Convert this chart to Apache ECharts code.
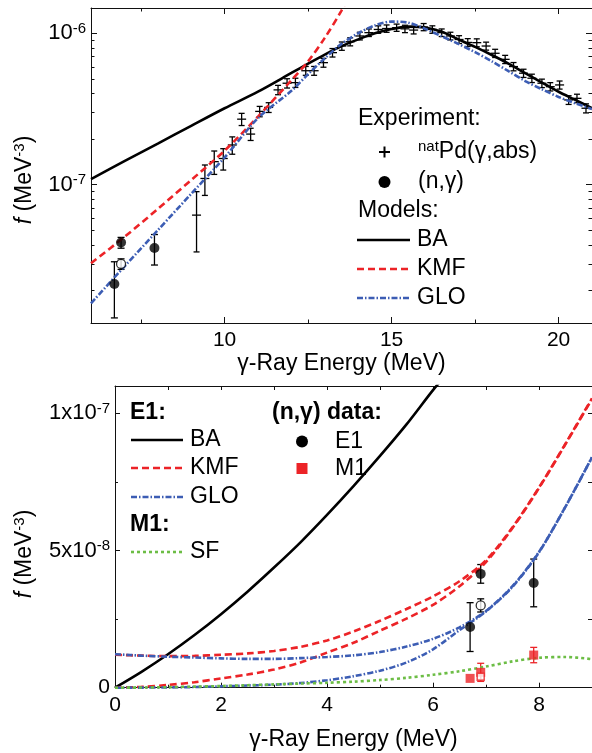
<!DOCTYPE html>
<html>
<head>
<meta charset="utf-8">
<script src="https://cdn.jsdelivr.net/npm/echarts@6/dist/echarts.min.js"></script>
<style>
  html, body { margin: 0; padding: 0; background: #ffffff; }
  #chart { width: 592px; height: 753px; }
</style>
</head>
<body>
<div id="chart"></div>
<script>
// ---------- Upper panel: strength function on a log scale ----------
// Model curves (MeV, MeV^-3)
const topE   = [6, 7, 8, 9, 10, 11, 12, 12.5, 13, 13.5, 14, 14.5, 15, 15.5, 16, 16.5, 17, 17.5, 18, 18.5, 19, 19.5, 20, 20.5, 21];
const baTop  = [1.09e-7, 1.43e-7, 1.87e-7, 2.45e-7, 3.20e-7, 4.12e-7, 5.47e-7, 6.31e-7, 7.24e-7, 8.22e-7, 9.12e-7, 1.0e-6, 1.066e-6, 1.107e-6, 1.091e-6, 1.023e-6, 9.12e-7, 8.13e-7, 7.19e-7, 6.31e-7, 5.45e-7, 4.73e-7, 4.11e-7, 3.63e-7, 3.20e-7];
const gloTop = [1.648e-8, 2.884e-8, 5.01e-8, 8.71e-8, 1.514e-7, 2.754e-7, 4.17e-7, 5.37e-7, 6.84e-7, 8.51e-7, 1.0e-6, 1.127e-6, 1.194e-6, 1.175e-6, 1.072e-6, 9.55e-7, 8.51e-7, 7.50e-7, 6.53e-7, 5.62e-7, 4.84e-7, 4.27e-7, 3.80e-7, 3.45e-7, 3.16e-7];
const kmfTopE = [6, 7, 8, 9, 10, 11, 12, 12.5, 13, 13.5, 14];
const kmfTop  = [3.03e-8, 4.52e-8, 6.92e-8, 1.074e-7, 1.679e-7, 2.818e-7, 4.90e-7, 6.53e-7, 9.33e-7, 1.413e-6, 2.29e-6];

// natPd(gamma,abs) photoabsorption points
const absE = [9.16, 9.41, 9.69, 9.96, 10.23, 10.51, 10.78, 11.05, 11.32, 11.6, 11.87, 12.12, 12.43, 12.68, 12.96, 13.23, 13.51, 13.76, 14.05, 14.32, 14.6, 14.85, 15.15, 15.4, 15.66, 15.96, 16.22, 16.5, 16.76, 17.02, 17.28, 17.55, 17.83, 18.1, 18.4, 18.65, 18.95, 19.2, 19.5, 19.75, 20.03, 20.3, 20.55, 20.82];
const absF = [6.3e-8, 1.10e-7, 1.42e-7, 1.49e-7, 1.83e-7, 2.71e-7, 2.16e-7, 3.05e-7, 3.24e-7, 4.23e-7, 4.68e-7, 4.72e-7, 5.66e-7, 5.66e-7, 6.4e-7, 7.45e-7, 8.24e-7, 8.8e-7, 9.6e-7, 1.01e-6, 1.06e-6, 1.075e-6, 1.09e-6, 1.07e-6, 1.05e-6, 1.10e-6, 1.06e-6, 1.01e-6, 9.6e-7, 9.1e-7, 8.7e-7, 8.67e-7, 8.24e-7, 7.38e-7, 6.73e-7, 6.03e-7, 5.45e-7, 5.05e-7, 4.68e-7, 4.44e-7, 4.56e-7, 3.63e-7, 3.72e-7, 3.20e-7];
const absErr = [2.7e-8, 2.5e-8, 2.5e-8, 2.4e-8, 2.4e-8, 2.5e-8, 2.0e-8, 2.4e-8, 2.4e-8, 3.0e-8, 3.3e-8, 3.3e-8, 3.8e-8, 3.8e-8, 4.3e-8, 4.8e-8, 5.2e-8, 5.4e-8, 5.6e-8, 5.8e-8, 6.0e-8, 6.0e-8, 6.0e-8, 6.0e-8, 6.0e-8, 6.0e-8, 6.0e-8, 5.8e-8, 5.6e-8, 5.4e-8, 5.2e-8, 5.2e-8, 5.0e-8, 4.6e-8, 4.2e-8, 3.8e-8, 3.4e-8, 3.2e-8, 3.0e-8, 2.8e-8, 2.8e-8, 2.4e-8, 2.4e-8, 2.2e-8];

// (n,gamma) E1 points, filled and open
const ngE = [6.7, 6.9, 7.9];
const ngF = [2.21e-8, 4.15e-8, 3.82e-8];
const ngErr = [0.89e-8, 0.34e-8, 0.87e-8];
const ngOpenE = [6.9];
const ngOpenF = [3.0e-8];
const ngOpenErr = [0.24e-8];

// (n,gamma) M1 points, filled and open
const m1E = [6.7, 6.9, 7.9];
const m1F = [0.34e-8, 0.56e-8, 1.19e-8];
const m1Err = [0.0, 0.33e-8, 0.28e-8];
const m1OpenE = [6.9];
const m1OpenF = [0.40e-8];
const m1OpenErr = [0.10e-8];

// ---------- Lower panel: linear scale, low energies ----------
const lowE     = [0, 0.5, 1, 1.5, 2, 2.5, 3, 3.5, 4, 4.5, 5, 5.5, 6, 6.5, 7, 7.5, 8, 8.5, 9];
const kmfHot   = [1.2e-8, 1.17e-8, 1.15e-8, 1.16e-8, 1.2e-8, 1.25e-8, 1.34e-8, 1.49e-8, 1.72e-8, 2.05e-8, 2.44e-8, 2.87e-8, 3.33e-8, 3.88e-8, 4.65e-8, 5.85e-8, 7.3e-8, 8.9e-8, 10.55e-8];
const kmfCold  = [0, 0.03e-8, 0.1e-8, 0.2e-8, 0.34e-8, 0.48e-8, 0.66e-8, 0.92e-8, 1.28e-8, 1.64e-8, 2.08e-8, 2.52e-8, 3.02e-8, 3.7e-8, 4.58e-8, 5.82e-8, 7.28e-8, 8.88e-8, 10.53e-8];
const gloHot   = [1.22e-8, 1.17e-8, 1.13e-8, 1.1e-8, 1.07e-8, 1.05e-8, 1.05e-8, 1.08e-8, 1.12e-8, 1.18e-8, 1.3e-8, 1.5e-8, 1.78e-8, 2.2e-8, 2.8e-8, 3.7e-8, 4.95e-8, 6.6e-8, 8.4e-8];
const gloCold  = [0, 0.003e-8, 0.01e-8, 0.025e-8, 0.05e-8, 0.08e-8, 0.11e-8, 0.17e-8, 0.27e-8, 0.42e-8, 0.62e-8, 0.92e-8, 1.4e-8, 2.1e-8, 2.78e-8, 3.68e-8, 4.94e-8, 6.6e-8, 8.4e-8];
const sfM1     = [0, 0.005e-8, 0.02e-8, 0.04e-8, 0.06e-8, 0.09e-8, 0.12e-8, 0.15e-8, 0.18e-8, 0.22e-8, 0.28e-8, 0.36e-8, 0.47e-8, 0.6e-8, 0.77e-8, 0.96e-8, 1.09e-8, 1.12e-8, 1.04e-8];
const baLowE   = [0, 0.5, 1, 1.5, 2, 2.5, 3, 3.5, 4, 4.5, 5, 5.5, 6, 6.2];
const baLow    = [0, 0.58e-8, 1.22e-8, 1.92e-8, 2.68e-8, 3.5e-8, 4.38e-8, 5.3e-8, 6.3e-8, 7.35e-8, 8.45e-8, 9.6e-8, 10.85e-8, 11.3e-8];

// ---------- Axis ticks and labels ----------
const topXMajor = [10, 15, 20];
const topXMinor = [7.5, 12.5, 17.5];
const topYMajorExp = [-7, -6];
const topYMinor = [2e-8, 3e-8, 4e-8, 5e-8, 6e-8, 7e-8, 8e-8, 9e-8, 2e-7, 3e-7, 4e-7, 5e-7, 6e-7, 7e-7, 8e-7, 9e-7];
const lowXMajor = [0, 2, 4, 6, 8];
const lowXMinor = [1, 3, 5, 7, 9];
const lowYMajor = [0, 5e-8, 1e-7];
const lowYMajorText = ['0', '{m|5x10}{e|-8}', '{m|1x10}{e|-7}'];
const lowYMinor = [2.5e-8, 7.5e-8];

const RED = '#ec2327';
const BLUE = '#3c5db4';
const GREEN = '#6cbd45';
const INK = '#111111';
const FONT = '"Liberation Sans", Arial, Helvetica, sans-serif';

const L = v => Math.log10(v);
const pairs = (xs, ys, f) => xs.map((x, i) => [x, f ? f(ys[i]) : ys[i]]);

// log-panel ranges (log10 of MeV^-3)
const TOP_YMIN = -7.913, TOP_YMAX = -5.833;

const chart = echarts.init(document.getElementById('chart'), null, { renderer: 'canvas' });

function xAxisDef(grid, pos, min, max, ticks, len, withLine, labels, name, nameGap) {
  return {
    type: 'value', gridIndex: grid, position: pos, min: min, max: max,
    axisLine: { show: withLine, onZero: false, lineStyle: { color: INK, width: 1 } },
    axisTick: { show: true, inside: true, length: len, customValues: ticks, lineStyle: { color: INK, width: 1 } },
    axisLabel: labels ? {
      show: true, customValues: labels, margin: 7, color: '#000', fontFamily: FONT, fontSize: 21
    } : { show: false },
    splitLine: { show: false },
    name: name || '', nameLocation: 'middle', nameGap: nameGap || 0,
    nameTextStyle: { color: '#000', fontFamily: FONT, fontSize: 23 }
  };
}

function yAxisDef(grid, pos, min, max, ticks, len, withLine, labels, fmt) {
  return {
    type: 'value', gridIndex: grid, position: pos, min: min, max: max,
    axisLine: { show: withLine, onZero: false, lineStyle: { color: INK, width: 1 } },
    axisTick: { show: true, inside: true, length: len, customValues: ticks, lineStyle: { color: INK, width: 1 } },
    axisLabel: labels ? {
      show: true, customValues: labels, margin: 5, color: '#000', fontFamily: FONT, fontSize: 21,
      formatter: fmt,
      rich: {
        m: { fontFamily: FONT, fontSize: 22, lineHeight: 24, color: '#000' },
        e: { fontFamily: FONT, fontSize: 15, lineHeight: 15, verticalAlign: 'top', color: '#000' }
      }
    } : { show: false },
    splitLine: { show: false }
  };
}

// error bars: vertical segment with caps, optional horizontal mark at the value
function errorSeries(xi, yi, xs, ys, es, tf, capW, midW, color, z) {
  const data = xs.map((x, i) => [x, ys[i], ys[i] - es[i], ys[i] + es[i]]);
  return {
    type: 'custom', xAxisIndex: xi, yAxisIndex: yi, z: z || 3, silent: true,
    data: data,
    renderItem: function (params, api) {
      const x = api.value(0);
      const v = tf(api.value(1)), lo = tf(Math.max(api.value(2), 1e-12)), hi = tf(api.value(3));
      const pv = api.coord([x, v]);
      const pl = api.coord([x, lo]);
      const ph = api.coord([x, hi]);
      const st = { stroke: color, lineWidth: 1.3 };
      const kids = [];
      if (Math.abs(pl[1] - ph[1]) > 0.5) {
        kids.push({ type: 'line', shape: { x1: pl[0], y1: pl[1], x2: ph[0], y2: ph[1] }, style: st });
        kids.push({ type: 'line', shape: { x1: pl[0] - capW / 2, y1: pl[1], x2: pl[0] + capW / 2, y2: pl[1] }, style: st });
        kids.push({ type: 'line', shape: { x1: ph[0] - capW / 2, y1: ph[1], x2: ph[0] + capW / 2, y2: ph[1] }, style: st });
      }
      if (midW > 0) {
        kids.push({ type: 'line', shape: { x1: pv[0] - midW / 2, y1: pv[1], x2: pv[0] + midW / 2, y2: pv[1] }, style: st });
      }
      return { type: 'group', children: kids };
    }
  };
}

const ident = v => v;

function lineSeries(xi, yi, data, color, type, width, z) {
  return {
    type: 'line', xAxisIndex: xi, yAxisIndex: yi, data: data, smooth: 0.3,
    symbol: 'none', silent: true, clip: true, z: z || 2,
    lineStyle: { color: color, width: width, type: type, cap: 'butt' }
  };
}

const topGrid = { left: 91, top: 8, width: 502, height: 315 };
const lowGrid = { left: 115, top: 386, width: 478, height: 301.7 };

const topYFmt = v => '{m|10}{e|' + Math.round(v) + '}';
const lowYFmt = v => {
  const i = lowYMajor.findIndex(t => Math.abs(t - v) < 1e-10);
  return i >= 0 ? lowYMajorText[i] : '';
};

// legend helpers
const txt = (x, y, s, extra) => ({
  type: 'text', x: x, y: y, silent: true,
  style: Object.assign({ text: s, fill: '#000', font: '23px ' + FONT, verticalAlign: 'middle', align: 'left' }, extra || {})
});
const seg = (x1, x2, y, color, dash, w) => ({
  type: 'line', silent: true, shape: { x1: x1, y1: y, x2: x2, y2: y },
  style: { stroke: color, lineWidth: w, lineDash: dash, lineCap: 'butt' }
});
const yTitle = (cy) => ({
  type: 'text', x: 25, y: cy, rotation: Math.PI / 2, silent: true,
  style: { text: '{i|f} (MeV{s|-3})', fill: '#000', font: '23px ' + FONT, align: 'center', verticalAlign: 'middle',
    rich: { i: { font: 'italic 23px ' + FONT, fill: '#000', lineHeight: 26 },
            s: { font: '15px ' + FONT, fill: '#000', verticalAlign: 'top', lineHeight: 15 } }, lineHeight: 26 }
});

const graphics = [
  // upper legend
  txt(358, 119, 'Experiment:'),
  seg(379, 390, 152, '#000', null, 2),
  { type: 'line', silent: true, shape: { x1: 384.5, y1: 146.5, x2: 384.5, y2: 157.5 }, style: { stroke: '#000', lineWidth: 2 } },
  txt(418, 152, '{s|nat}Pd(γ,abs)', { rich: { s: { font: '15px ' + FONT, verticalAlign: 'top', lineHeight: 15, fill: '#000' } }, lineHeight: 26 }),
  { type: 'circle', silent: true, shape: { cx: 384.5, cy: 182, r: 6 }, style: { fill: '#000' } },
  txt(418, 182, '(n,γ)'),
  txt(358, 211, 'Models:'),
  seg(357, 410, 240, '#000', null, 2.6),
  txt(417, 240, 'BA'),
  seg(357, 410, 269, RED, [7, 4], 2.6),
  txt(417, 269, 'KMF'),
  seg(357, 410, 298, BLUE, [6, 2, 1.5, 2], 2.6),
  txt(417, 298, 'GLO'),

  // lower legend
  txt(130, 413, 'E1:', { font: 'bold 23px ' + FONT }),
  seg(131, 183, 440, '#000', null, 2.6),
  txt(190, 440, 'BA'),
  seg(131, 183, 468, RED, [7, 4], 2.6),
  txt(190, 468, 'KMF'),
  seg(131, 183, 497, BLUE, [6, 2, 1.5, 2], 2.6),
  txt(190, 497, 'GLO'),
  txt(130, 525, 'M1:', { font: 'bold 23px ' + FONT }),
  seg(131, 183, 552, GREEN, [3, 3], 2.6),
  txt(190, 552, 'SF'),
  txt(272, 413, '(n,γ) data:', { font: 'bold 23px ' + FONT }),
  { type: 'circle', silent: true, shape: { cx: 302, cy: 441.5, r: 6 }, style: { fill: '#000' } },
  txt(335, 441.5, 'E1'),
  { type: 'rect', silent: true, shape: { x: 296.5, y: 463, width: 11, height: 11 }, style: { fill: RED } },
  txt(335, 468.5, 'M1'),

  // vertical axis titles
  yTitle(180),
  yTitle(554)
];

const option = {
  animation: false,
  backgroundColor: '#ffffff',
  grid: [topGrid, lowGrid],
  xAxis: [
    xAxisDef(0, 'bottom', 6, 21, topXMajor, 6, true, topXMajor, 'γ-Ray Energy (MeV)', 29),
    xAxisDef(0, 'bottom', 6, 21, topXMinor, 3.5, false, null),
    xAxisDef(0, 'top', 6, 21, topXMajor, 6, true, null),
    xAxisDef(0, 'top', 6, 21, topXMinor, 3.5, false, null),
    xAxisDef(1, 'bottom', 0, 9, lowXMajor, 5, true, lowXMajor, 'γ-Ray Energy (MeV)', 40),
    xAxisDef(1, 'bottom', 0, 9, lowXMinor, 3, false, null),
    xAxisDef(1, 'top', 0, 9, lowXMajor.concat(lowXMinor), 4, true, null)
  ],
  yAxis: [
    yAxisDef(0, 'left', TOP_YMIN, TOP_YMAX, topYMajorExp, 6, true, topYMajorExp, topYFmt),
    yAxisDef(0, 'left', TOP_YMIN, TOP_YMAX, topYMinor.map(L), 3.5, false, null),
    yAxisDef(0, 'right', TOP_YMIN, TOP_YMAX, topYMajorExp, 6, true, null),
    yAxisDef(0, 'right', TOP_YMIN, TOP_YMAX, topYMinor.map(L), 3.5, false, null),
    yAxisDef(1, 'left', 0, 1.1e-7, lowYMajor, 5, true, lowYMajor, lowYFmt),
    yAxisDef(1, 'left', 0, 1.1e-7, lowYMinor, 3, false, null),
    yAxisDef(1, 'right', 0, 1.1e-7, lowYMajor.concat(lowYMinor), 4, true, null)
  ],
  graphic: { elements: graphics },
  series: [
    // upper panel
    lineSeries(0, 0, pairs(topE, baTop, L), '#000', 'solid', 2.6, 4),
    lineSeries(0, 0, pairs(kmfTopE, kmfTop, L), RED, [7, 4], 2.6, 4),
    lineSeries(0, 0, pairs(topE, gloTop, L), BLUE, [6, 2, 1.5, 2], 2.6, 4),
    errorSeries(0, 0, absE, absF, absErr, L, 6, 9, '#000', 3),
    errorSeries(0, 0, ngE, ngF, ngErr, L, 7, 0, '#000', 3),
    errorSeries(0, 0, ngOpenE, ngOpenF, ngOpenErr, L, 7, 0, '#000', 3),
    { type: 'scatter', xAxisIndex: 0, yAxisIndex: 0, symbol: 'circle', symbolSize: 10, z: 5, silent: true,
      itemStyle: { color: '#000' }, data: pairs(ngE, ngF, L) },
    { type: 'scatter', xAxisIndex: 0, yAxisIndex: 0, symbol: 'circle', symbolSize: 9, z: 5, silent: true,
      itemStyle: { color: '#fff', borderColor: '#000', borderWidth: 1.3 }, data: pairs(ngOpenE, ngOpenF, L) },

    // lower panel
    lineSeries(4, 4, pairs(baLowE, baLow), '#000', 'solid', 2.6, 4),
    lineSeries(4, 4, pairs(lowE, kmfHot), RED, [7, 4], 2.6, 4),
    lineSeries(4, 4, pairs(lowE, kmfCold), RED, [7, 4], 2.6, 4),
    lineSeries(4, 4, pairs(lowE, gloHot), BLUE, [6, 2, 1.5, 2], 2.6, 4),
    lineSeries(4, 4, pairs(lowE, gloCold), BLUE, [6, 2, 1.5, 2], 2.6, 4),
    lineSeries(4, 4, pairs(lowE, sfM1), GREEN, [3, 3], 2.6, 4),
    errorSeries(4, 4, ngE, ngF, ngErr, ident, 7, 0, '#000', 3),
    errorSeries(4, 4, ngOpenE, ngOpenF, ngOpenErr, ident, 7, 0, '#000', 3),
    errorSeries(4, 4, m1E, m1F, m1Err, ident, 7, 0, RED, 3),
    errorSeries(4, 4, m1OpenE, m1OpenF, m1OpenErr, ident, 7, 0, RED, 3),
    { type: 'scatter', xAxisIndex: 4, yAxisIndex: 4, symbol: 'circle', symbolSize: 10, z: 5, silent: true,
      itemStyle: { color: '#000' }, data: pairs(ngE, ngF) },
    { type: 'scatter', xAxisIndex: 4, yAxisIndex: 4, symbol: 'circle', symbolSize: 9, z: 5, silent: true,
      itemStyle: { color: '#fff', borderColor: '#000', borderWidth: 1.3 }, data: pairs(ngOpenE, ngOpenF) },
    { type: 'scatter', xAxisIndex: 4, yAxisIndex: 4, symbol: 'rect', symbolSize: 9, z: 5, silent: true,
      itemStyle: { color: RED }, data: pairs(m1E, m1F) },
    { type: 'scatter', xAxisIndex: 4, yAxisIndex: 4, symbol: 'rect', symbolSize: 7, z: 6, silent: true,
      itemStyle: { color: '#fff', borderColor: RED, borderWidth: 1.5 }, data: pairs(m1OpenE, m1OpenF) }
  ]
};

chart.setOption(option);
</script>
</body>
</html>
